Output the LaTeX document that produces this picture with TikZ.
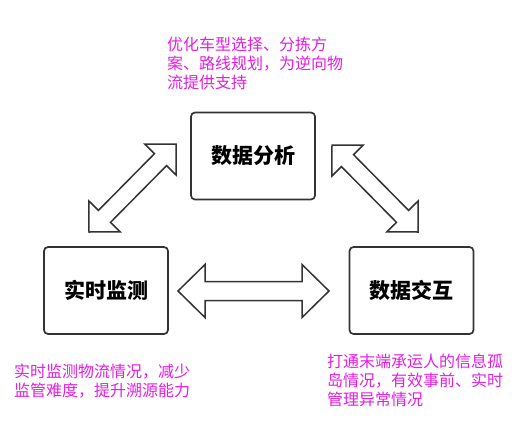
\documentclass[tikz,border=0pt]{standalone}
\usepackage{fontspec}
\usepackage{tikz}
\usetikzlibrary{calc}
\newfontfamily\cjk{Noto Sans CJK SC}
\definecolor{edgegray}{RGB}{51,51,51}
\definecolor{notepink}{RGB}{225,30,225}
\newcommand{\blockarrow}[5]{% tips #1 #2, head length #3, head half height #4, shaft half width #5
  \draw[bigarrow] (#1) -- ($(#1)!#3!(#2)!#4!90:(#2)$) -- ($(#1)!#3!(#2)!#5!90:(#2)$)
    -- ($(#2)!#3!(#1)!#5!-90:(#1)$) -- ($(#2)!#3!(#1)!#4!-90:(#1)$) -- (#2)
    -- ($(#2)!#3!(#1)!#4!90:(#1)$) -- ($(#2)!#3!(#1)!#5!90:(#1)$)
    -- ($(#1)!#3!(#2)!#5!-90:(#2)$) -- ($(#1)!#3!(#2)!#4!-90:(#2)$) -- cycle;}

\begin{document}
\begin{tikzpicture}
        [x=1pt,y=-1pt,
         box/.style={draw=edgegray,line width=1.7pt,rounded corners=4pt,minimum width=124pt,minimum height=87pt,font=\cjk\bfseries\fontsize{21}{25}\selectfont},
         note/.style={anchor=north west,inner sep=0pt,align=left,text=notepink,font=\cjk\fontsize{16}{18.7}\selectfont},
         bigarrow/.style={draw=edgegray,line width=1.5pt,fill=white,line join=miter}]
        \useasboundingbox (0,0) rectangle (532,429);

        \node[box] (ana) at (253,156) {数据分析};
        \node[box] (mon) at (106,290.5) {实时监测};
        \node[box] (int) at (411.5,290.5) {数据交互};

        % arrow tips
        \coordinate (l1) at (89,232);
        \coordinate (l2) at (176,144);
        \coordinate (r1) at (332,145);
        \coordinate (r2) at (418,232);
        \coordinate (h1) at (178,291);
        \coordinate (h2) at (329,291);

        \blockarrow{l1}{l2}{22pt}{22pt}{8.5pt}
        \blockarrow{r1}{r2}{22pt}{22pt}{8.5pt}
        \blockarrow{h1}{h2}{27pt}{26.5pt}{9.5pt}

        \node[note] (anatext) at (167,37) {优化车型选择、分拣方\\案、路线规划，为逆向物\\流提供支持};
        \node[note] (montext) at (14,364) {实时监测物流情况，减少\\监管难度，提升溯源能力};
        \node[note] (inttext) at (327,354) {打通末端承运人的信息孤\\岛情况，有效事前、实时\\管理异常情况};
    \end{tikzpicture}
\end{document}
